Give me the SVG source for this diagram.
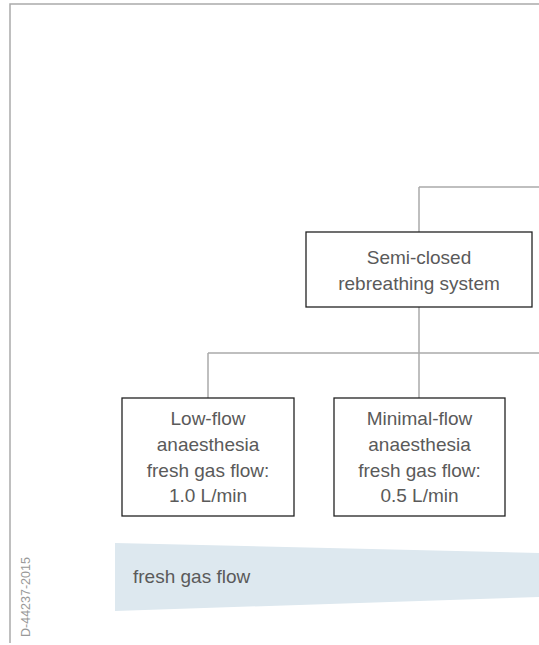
<svg xmlns="http://www.w3.org/2000/svg" width="539" height="645" viewBox="0 0 539 645">
<style>
.frame{fill:none;stroke:#aaaaaa;stroke-width:1.5}
.conn{fill:none;stroke:#aaaaaa;stroke-width:1.5}
.box{fill:#ffffff;stroke:#222222;stroke-width:1.3}
.t{font-family:"Liberation Sans",Arial,sans-serif;font-size:19px;fill:#5a5a5a;text-anchor:middle}
.tl{font-family:"Liberation Sans",Arial,sans-serif;font-size:19px;fill:#5a5a5a}
.code{font-family:"Liberation Sans",Arial,sans-serif;font-size:12.5px;fill:#999999}
</style>
<rect width="539" height="645" fill="#ffffff"/>
<path class="frame" d="M10,643 V4 H539"/>
<g id="connectors">
<path class="conn" d="M419,187 H539 M419,187 V232"/>
<path class="conn" d="M419,307 V398 M208,353 H539 M208,353 V398"/>
</g>
<g id="semi-closed">
<rect class="box" x="306" y="232" width="226" height="75"/>
<text class="t" x="419" y="264">Semi-closed</text>
<text class="t" x="419" y="290">rebreathing system</text>
</g>
<g id="low-flow">
<rect class="box" x="122" y="398" width="172" height="118"/>
<text class="t" x="208" y="425">Low-flow</text>
<text class="t" x="208" y="451">anaesthesia</text>
<text class="t" x="208" y="477">fresh gas flow:</text>
<text class="t" x="208" y="502">1.0 L/min</text>
</g>
<g id="minimal-flow">
<rect class="box" x="334" y="398" width="171" height="118"/>
<text class="t" x="419.5" y="425">Minimal-flow</text>
<text class="t" x="419.5" y="451">anaesthesia</text>
<text class="t" x="419.5" y="477">fresh gas flow:</text>
<text class="t" x="419.5" y="502">0.5 L/min</text>
</g>
<g id="fresh-gas-flow">
<polygon points="115,543 539,553 539,597 115,611" fill="#dde8ef"/>
<text class="tl" x="133" y="583">fresh gas flow</text>
</g>
<text class="code" transform="translate(30,637) rotate(-90)">D-44237-2015</text>
</svg>
